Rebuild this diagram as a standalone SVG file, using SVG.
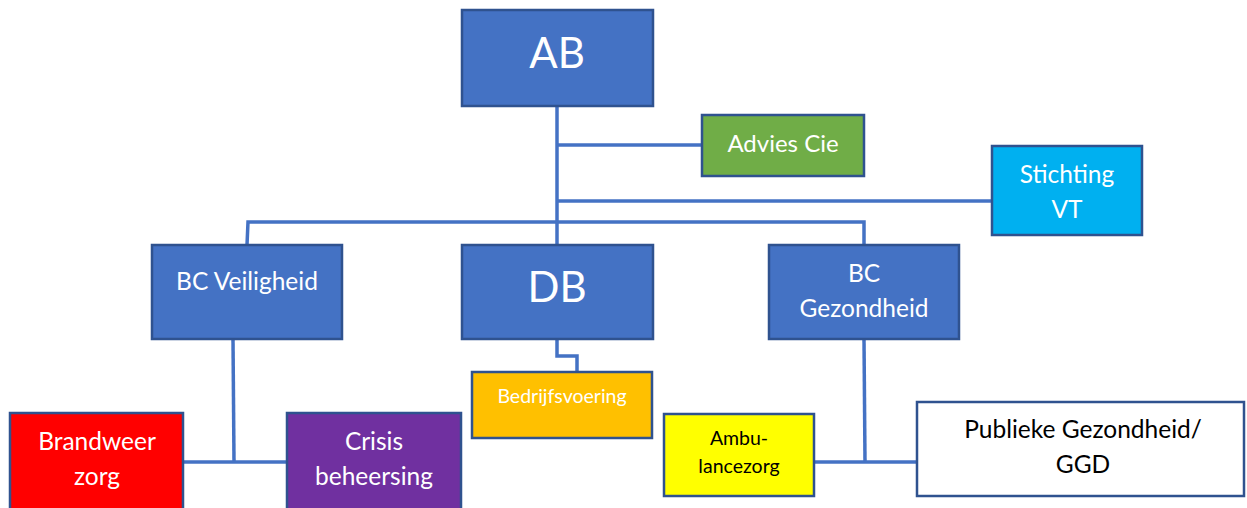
<svg xmlns="http://www.w3.org/2000/svg" width="1247" height="508" viewBox="0 0 1247 508">
<style>
.box{stroke:#2F528F;stroke-width:2.5}
.conn{fill:none;stroke:#4472C4;stroke-width:3.5}
text{font-family:Lato,"Open Sans",sans-serif;text-anchor:middle;fill:#fff}
.dark{fill:#000}
</style>
<rect width="1247" height="508" fill="#fff"/>
<g id="connectors">
<path class="conn" d="M557,106 V245"/>
<path class="conn" d="M557,145 H702"/>
<path class="conn" d="M557,201 H992"/>
<path class="conn" d="M247,245 L248,222 H864 V245"/>
<path class="conn" d="M557,339 V356 H577 V372"/>
<path class="conn" d="M233,339 L234,462"/>
<path class="conn" d="M183,462 H287"/>
<path class="conn" d="M864,339 L865,462"/>
<path class="conn" d="M814,462 H917"/>
</g>
<g id="AB"><rect class="box" x="462" y="10" width="191" height="96" fill="#4472C4"/><text x="557" y="68" font-size="42">AB</text></g>
<g id="AdviesCie"><rect class="box" x="702" y="115" width="162" height="61" fill="#70AD47"/><text x="783" y="152" font-size="24">Advies Cie</text></g>
<g id="StichtingVT"><rect class="box" x="992" y="146" width="150" height="89" fill="#00B0F0"/><text x="1067" y="183" font-size="24.5">Stichting</text><text x="1067" y="218" font-size="24.5">VT</text></g>
<g id="BCVeiligheid"><rect class="box" x="152" y="245" width="190" height="94" fill="#4472C4"/><text x="247" y="290" font-size="24.5">BC Veiligheid</text></g>
<g id="DB"><rect class="box" x="462" y="245" width="191" height="94" fill="#4472C4"/><text x="557" y="302" font-size="42">DB</text></g>
<g id="BCGezondheid"><rect class="box" x="769" y="245" width="190" height="94" fill="#4472C4"/><text x="864" y="282" font-size="24.5">BC</text><text x="864" y="317" font-size="24.5">Gezondheid</text></g>
<g id="Bedrijfsvoering"><rect class="box" x="472" y="372" width="180" height="66" fill="#FFC000"/><text x="562" y="403" font-size="19.5">Bedrijfsvoering</text></g>
<g id="Brandweerzorg"><rect class="box" x="10" y="413" width="173" height="100" fill="#FF0000"/><text x="97" y="450" font-size="24.5">Brandweer</text><text x="97" y="485" font-size="24.5">zorg</text></g>
<g id="Crisisbeheersing"><rect class="box" x="287" y="413" width="174" height="100" fill="#7030A0"/><text x="374" y="450" font-size="24.5">Crisis</text><text x="374" y="485" font-size="24.5">beheersing</text></g>
<g id="Ambulancezorg"><rect class="box" x="664" y="414" width="150" height="82" fill="#FFFF00"/><text class="dark" x="739" y="445" font-size="19.5">Ambu-</text><text class="dark" x="739" y="473" font-size="19.5">lancezorg</text></g>
<g id="PubliekeGezondheid"><rect class="box" x="917" y="402" width="327" height="94" fill="#FFFFFF"/><text class="dark" x="1083" y="438" font-size="24.5">Publieke Gezondheid/</text><text class="dark" x="1083" y="473" font-size="24.5">GGD</text></g>
</svg>
